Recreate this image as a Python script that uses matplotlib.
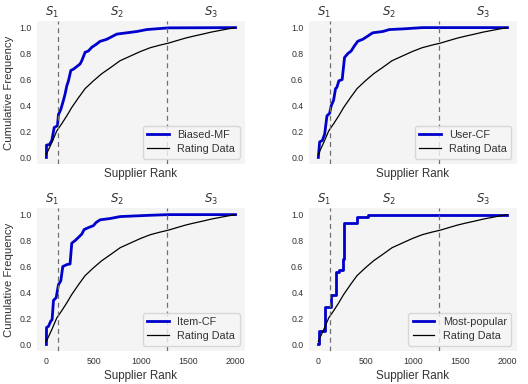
import matplotlib
matplotlib.use("Agg")
import matplotlib.pyplot as plt
import matplotlib.transforms as mtransforms

plt.rcParams['font.family'] = ['Liberation Sans', 'DejaVu Sans']

# Rating data (common black curve)
rating_rank = [0, 57, 110, 162, 215, 268, 339, 409, 497, 585, 674, 779, 885,
               991, 1097, 1200, 1288, 1380, 1474, 1560, 1653, 1740, 1832, 1920, 2000]
rating_freq = [0.025, 0.115, 0.205, 0.26, 0.32, 0.385, 0.46, 0.53, 0.59, 0.645, 0.69,
               0.745, 0.78, 0.815, 0.845, 0.865, 0.88, 0.90, 0.92, 0.935, 0.95,
               0.965, 0.978, 0.99, 1.0]

biased_rank = [0, 1, 33, 57, 82, 117, 127, 152, 180, 198, 215, 233, 258, 286, 321,
               356, 374, 409, 444, 479, 532, 567, 638, 691, 744, 850, 956, 1061,
               1290, 2000]
biased_freq = [0.0, 0.095, 0.10, 0.13, 0.23, 0.245, 0.33, 0.37, 0.44, 0.49, 0.55,
               0.59, 0.67, 0.68, 0.70, 0.72, 0.745, 0.81, 0.82, 0.848, 0.874, 0.894,
               0.91, 0.93, 0.95, 0.96, 0.97, 0.985, 0.998, 1.0]

user_rank = [0, 14, 42, 67, 91, 119, 137, 161, 182, 196, 217, 252, 277, 312, 347,
             382, 417, 470, 523, 575, 681, 751, 891, 1102, 2000]
user_freq = [0.0, 0.12, 0.13, 0.18, 0.32, 0.34, 0.40, 0.44, 0.53, 0.54, 0.59, 0.60,
             0.77, 0.80, 0.82, 0.86, 0.895, 0.91, 0.935, 0.96, 0.97, 0.985, 0.99,
             1.0, 1.0]

item_rank = [0, 1, 22, 46, 60, 75, 103, 127, 152, 173, 215, 250, 268, 303, 339,
             374, 399, 444, 497, 526, 568, 674, 780, 1097, 1290, 2000]
item_freq = [0.0, 0.13, 0.14, 0.18, 0.19, 0.34, 0.36, 0.46, 0.49, 0.60, 0.615,
             0.62, 0.78, 0.80, 0.825, 0.85, 0.885, 0.90, 0.915, 0.94, 0.96, 0.97,
             0.985, 0.995, 1.0, 1.0]

pop_rank = [0, 2, 72, 133, 188, 215, 265, 272, 405, 528, 2000]
pop_freq = [0.0, 0.107, 0.29, 0.38, 0.555, 0.57, 0.66, 0.935, 0.98, 1.0, 1.0]

segment_bounds = [123, 1273]
segment_labels = ['$S_1$', '$S_2$', '$S_3$']
segment_label_pos = [63, 750, 1740]

panels = [
    ('Biased-MF', biased_rank, biased_freq, 'line'),
    ('User-CF', user_rank, user_freq, 'line'),
    ('Item-CF', item_rank, item_freq, 'line'),
    ('Most-popular', pop_rank, pop_freq, 'steps'),
]

fig = plt.figure(figsize=(5.28, 3.84), dpi=100)
lefts = [0.070, 0.585]
bottoms = [0.573, 0.086]
w, h = 0.394, 0.372

text_color = '#333333'
for i, (name, xr, yr, kind) in enumerate(panels):
    row, col = divmod(i, 2)
    ax = fig.add_axes([lefts[col], bottoms[row], w, h])
    ax.set_facecolor('#f4f4f4')
    for s in ax.spines.values():
        s.set_visible(False)
    if kind == 'steps':
        ax.plot(xr, yr, color='#0000cc', lw=2.0, drawstyle='steps-post', label=name)
    else:
        ax.plot(xr, yr, color='#0000cc', lw=2.0, label=name)
    ax.plot(rating_rank, rating_freq, color='black', lw=0.9, label='Rating Data')
    for b in segment_bounds:
        ax.axvline(b, color='#707070', lw=0.9, ls=(0, (4, 3)))
    ax.set_xlim(-100, 2100)
    ax.set_ylim(-0.05, 1.05)
    ax.set_yticks([0.0, 0.2, 0.4, 0.6, 0.8, 1.0])
    ax.set_yticklabels(['0.0', '0.2', '0.4', '0.6', '0.8', '1.0'])
    ax.set_xticks([0, 500, 1000, 1500, 2000])
    ax.tick_params(axis='both', length=0, labelsize=6.3, colors=text_color, pad=4)
    if row == 0:
        ax.tick_params(axis='x', labelbottom=False)
    ax.set_xlabel('Supplier Rank', fontsize=8.4, color=text_color, labelpad=3)
    if col == 0:
        ax.set_ylabel('Cumulative Frequency', fontsize=8.2, color=text_color, labelpad=4)
    trans = mtransforms.blended_transform_factory(ax.transData, ax.transAxes)
    for lab, pos in zip(segment_labels, segment_label_pos):
        ax.text(pos, 1.008, lab, transform=trans, ha='center', va='bottom',
                fontsize=8.5, color=text_color)
    leg = ax.legend(loc='lower right', fontsize=7.8, frameon=True, borderpad=0.4,
                    handlelength=2.0, labelspacing=0.4)
    leg.get_frame().set_edgecolor('#d0d0d0')
    leg.get_frame().set_facecolor('#f6f6f6')
    for t in leg.get_texts():
        t.set_color(text_color)

fig.savefig('out.png', dpi=100, facecolor='white')
